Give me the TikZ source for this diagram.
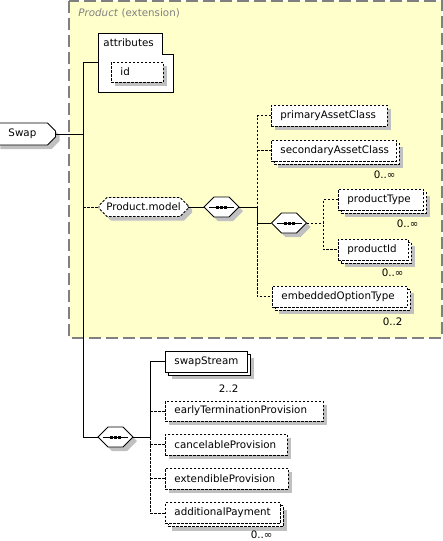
\documentclass[tikz,border=0pt]{standalone}
\usepackage{fontspec}
\setmainfont{DejaVu Sans}
\usepackage{tikz}
\usetikzlibrary{shapes.misc, shadows, positioning}
\usepackage{xcolor}
\definecolor{extfill}{HTML}{FFFFCC}
\definecolor{extline}{HTML}{808080}
\definecolor{shadegray}{HTML}{C0C0C0}
% empty body of a sequence box
\newcommand{\seqbody}{\rule{0pt}{10pt}\hspace*{25pt}}

\begin{document}
\begin{tikzpicture}[x=1pt, y=-1pt, line width=0.9pt,
  font=\fontsize{10.3}{12}\selectfont,
  dropsh/.style={drop shadow={shadow xshift=4pt, shadow yshift=-4pt, fill=shadegray, opacity=1}},
  stacked/.style={general shadow={shadow xshift=7pt, shadow yshift=-7pt, fill=shadegray},
                  general shadow={shadow xshift=3pt, shadow yshift=-3pt, fill=white, draw}},
  opt/.style={dash pattern=on 2.5pt off 1.5pt},
  elem/.style={draw, fill=white, minimum height=21pt, inner xsep=9pt, inner ysep=0pt,
               text width=#1, align=left, anchor=west},
  chamf/.style={chamfered rectangle, chamfered rectangle xsep=4pt, chamfered rectangle ysep=4pt,
                draw, fill=white, inner sep=0pt},
  seqbox/.style={chamf, chamfered rectangle xsep=5pt, chamfered rectangle ysep=5pt, dropsh,
                 path picture={
                   \draw[black] ([xshift=5pt]path picture bounding box.west) -- ([xshift=-5pt]path picture bounding box.east);
                   \foreach \d in {-4,0,4}
                     \fill[black] ([xshift=\d pt]path picture bounding box.center) +(-1.5pt,-1.5pt) rectangle +(1.5pt,1.5pt);
                 }},
  occurs/.style={anchor=east, inner sep=0pt}
]
\useasboundingbox (0,0) rectangle (443,541);

% ---- Product (extension) ----
\fill[extfill] (69,0.75) rectangle (442,338);
\draw[extline, line width=1.5pt, dash pattern=on 12pt off 5pt] (69,0.75) rectangle (442,338);
\node[anchor=west, inner sep=0pt, text=extline] (ext) at (78,13) {\textit{Product} (extension)};

% root
\node[chamf, chamfered rectangle corners={north east,south east}, dropsh,
      minimum height=22pt, inner xsep=8pt, text width=35pt, align=left] (swap) at (26,134) {Swap};
\coordinate (trunk) at (83,134);

% attributes
\filldraw[fill=white] (98,33) -- (162,33) -- (162,54) -- (173,54) -- (173,92) -- (98,92) -- cycle;
\node[anchor=west, inner sep=0pt] (attr) at (103,43) {attributes};
\coordinate (attrin) at (98,62);
\node[elem=34pt, opt, dropsh, minimum height=20pt] (id) at (111,72) {id};

% Product.model and its sequences
\node[chamf, opt, dropsh, minimum width=89pt, minimum height=19pt] (pm) at (143.5,207) {Product.model};
\node[seqbox] (s1) at (221.5,207) {\seqbody};
\coordinate (bus) at (257,207);
\node[seqbox] (s2) at (289,223) {\seqbody};
\coordinate (bus2) at (323,223);

\node[elem=98pt, opt, dropsh] (pac) at (271,115.5) {primaryAssetClass};
\node[elem=107pt, opt, stacked] (sac) at (271,150.5) {secondaryAssetClass};
\node[elem=67pt, opt, stacked] (pt) at (338,199.5) {productType};
\node[elem=52pt, opt, stacked] (pid) at (338,249.5) {productId};
\node[elem=117pt, opt, stacked] (eot) at (272,296.5) {embeddedOptionType};

\node[occurs] (sacN) at ([xshift=-1pt, yshift=-13pt]sac.south east) {0..∞};
\node[occurs] (ptN) at ([xshift=-5pt, yshift=-13pt]pt.south east) {0..∞};
\node[occurs] (pidN) at ([xshift=-5pt, yshift=-12pt]pid.south east) {0..∞};
\node[occurs] (eotN) at ([xshift=-5pt, yshift=-14pt]eot.south east) {0..2};

% swap streams and provisions
\node[seqbox] (s3) at (115.5,437) {\seqbody};
\coordinate (bus3) at (150,437);
\node[elem=64pt, stacked] (ss) at (165,361.5) {swapStream};
\node[elem=140pt, opt, dropsh, minimum height=20pt] (etp) at (165,411) {earlyTerminationProvision};
\node[elem=104pt, opt, dropsh] (cp) at (165,444.5) {cancelableProvision};
\node[elem=105pt, opt, dropsh] (ep) at (165,478.5) {extendibleProvision};
\node[elem=97pt, opt, stacked] (ap) at (165,513) {additionalPayment};

\node[occurs] (ssN) at ([xshift=-9pt, yshift=-16pt]ss.south east) {2..2};
\node[occurs] (apN) at ([xshift=-8pt, yshift=-11pt]ap.south east) {0..∞};

% connectors
\draw (swap.east) -- (trunk);
\draw (attrin) -- (trunk |- attrin) -- (trunk |- s3.west) -- (s3.west);
\draw[opt] (trunk |- pm.west) -- (pm.west);
\draw (pm.east) -- (s1.west);
\draw (s1.east) -- (bus);
\draw[opt] (pac.west) -- (bus |- pac.west) -- (bus);
\draw[opt] (bus |- sac.west) -- (sac.west);
\draw (bus) -- (bus |- s2.west) -- (s2.west);
\draw[opt] (bus |- s2.west) -- (bus |- eot.west) -- (eot.west);
\draw[opt] (s2.east) -- (bus2);
\draw[opt] (pt.west) -- (bus2 |- pt.west) -- (bus2 |- pid.west) -- (pid.west);

\draw (s3.east) -- (bus3);
\draw (ss.west) -- (bus3 |- ss.west) -- (bus3);
\draw[opt] (bus3) -- (bus3 |- ap.west) -- (ap.west);
\draw[opt] (bus3 |- etp.west) -- (etp.west);
\draw[opt] (bus3 |- cp.west) -- (cp.west);
\draw[opt] (bus3 |- ep.west) -- (ep.west);

\end{tikzpicture}
\end{document}
